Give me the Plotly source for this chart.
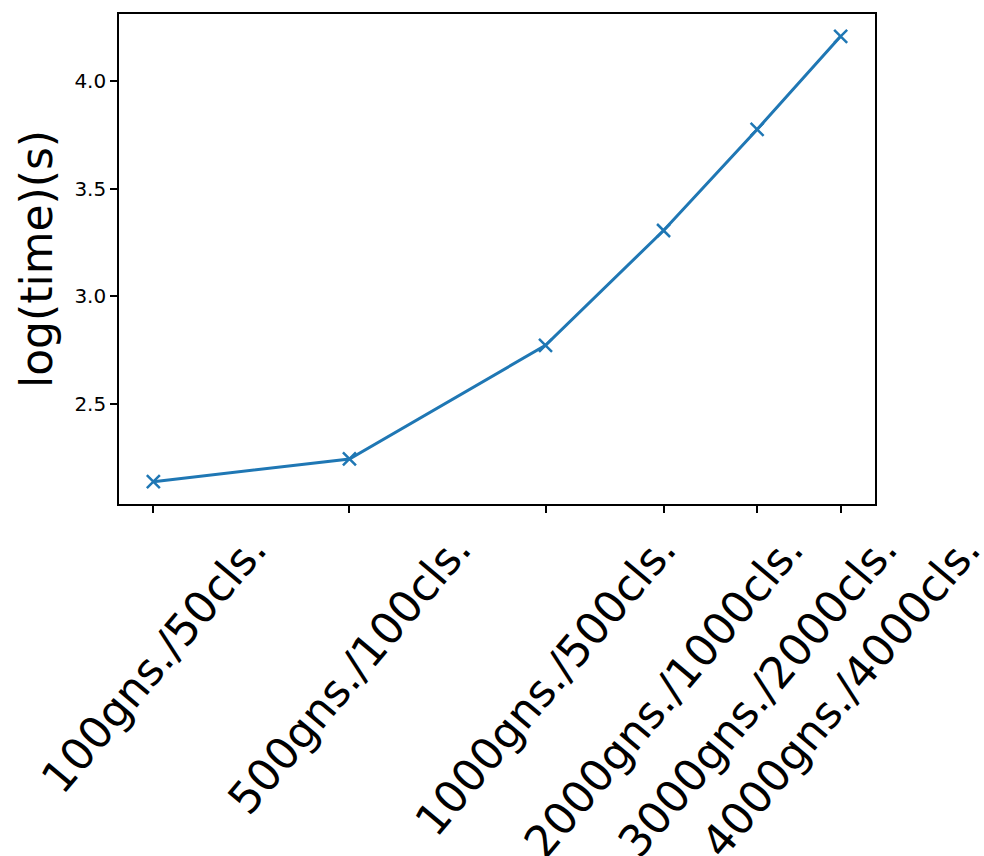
import numpy as np
import plotly.graph_objects as go

genes = [100, 500, 1000, 2000, 3000, 4000]
classes = [50, 100, 500, 1000, 2000, 4000]
log_time = [2.137, 2.243, 2.771, 3.305, 3.775, 4.208]
tick_labels = ["100gns./50cls.", "500gns./100cls.", "1000gns./500cls.",
               "2000gns./1000cls.", "3000gns./2000cls.", "4000gns./4000cls."]
y_ticks = [2.5, 3.0, 3.5, 4.0]

x_pos = [float(np.log10(g * c)) for g, c in zip(genes, classes)]

xpad = (max(x_pos) - min(x_pos)) * 0.05
ypad = (max(log_time) - min(log_time)) * 0.05

fig = go.Figure()
fig.add_trace(go.Scatter(
    x=x_pos, y=log_time, mode="lines+markers",
    line=dict(color="#1f77b4", width=3),
    marker=dict(symbol="x-thin", size=13, line=dict(color="#1f77b4", width=2.5)),
    showlegend=False,
))

for xv, lab in zip(x_pos, tick_labels):
    fig.add_annotation(
        x=xv, y=0, xref="x", yref="paper", text=lab, showarrow=False,
        textangle=-50, xanchor="center", yanchor="top", yshift=-17,
        font=dict(family="DejaVu Sans", size=44, color="black"),
    )

axis_common = dict(
    showline=True, linecolor="black", linewidth=1.6, mirror=True,
    ticks="outside", ticklen=7, tickwidth=1.6, tickcolor="black",
    showgrid=False, zeroline=False,
)

fig.update_layout(
    width=984, height=856,
    margin=dict(l=119, r=109, t=14, b=352),
    paper_bgcolor="white", plot_bgcolor="white",
    font=dict(family="DejaVu Sans", color="black"),
    xaxis=dict(range=[min(x_pos) - xpad, max(x_pos) + xpad],
               tickvals=x_pos, ticktext=[""] * len(x_pos), **axis_common),
    yaxis=dict(range=[min(log_time) - ypad, max(log_time) + ypad],
               tickvals=y_ticks, ticktext=[f"{v:.1f}" for v in y_ticks],
               tickfont=dict(size=20, color="black"),
               title=dict(text="log(time)(s)", font=dict(size=44, color="black"), standoff=8),
               automargin=False, **axis_common),
)

fig.write_html("out.html", config={"displayModeBar": False},
               post_script="document.body.style.margin='0';")
